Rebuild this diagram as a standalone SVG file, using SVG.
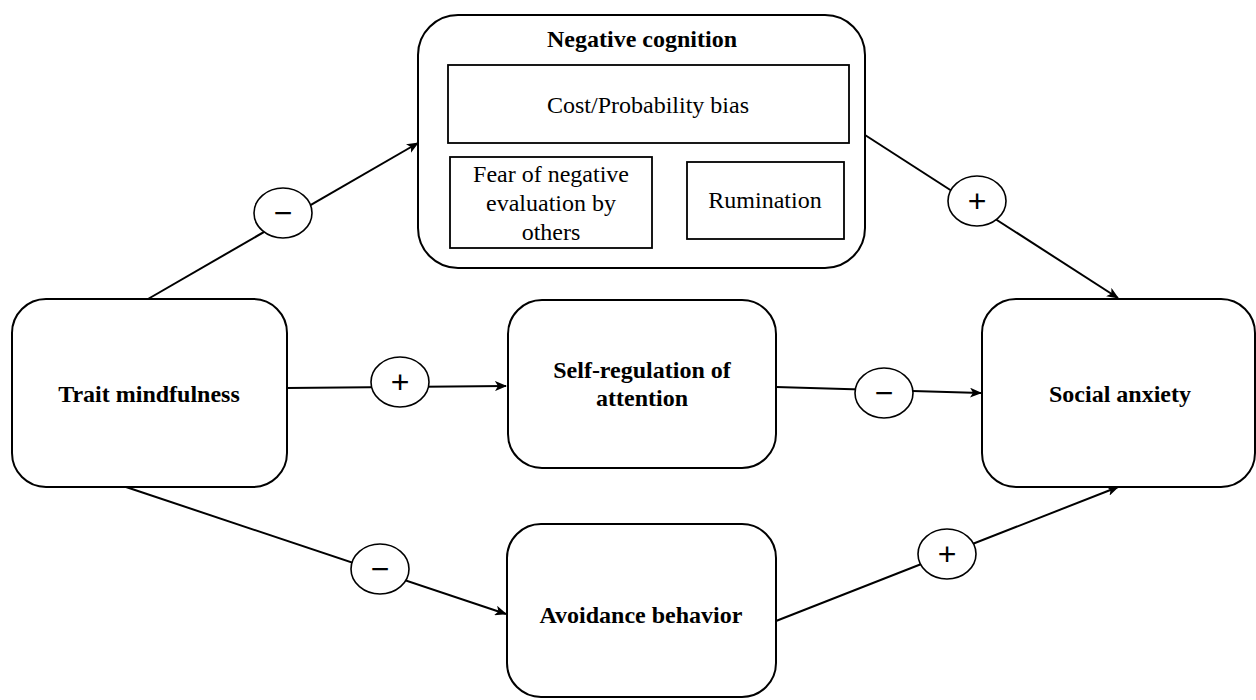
<svg xmlns="http://www.w3.org/2000/svg" width="1256" height="700" viewBox="0 0 1256 700">
<style>
.node{fill:#fff;stroke:#000;stroke-width:2}
.inner{fill:#fff;stroke:#000;stroke-width:1.8}
.sign{fill:#fff;stroke:#000;stroke-width:1.6}
.edge{fill:none;stroke:#000;stroke-width:2}
.b{font-family:"Liberation Serif","Times New Roman",serif;font-weight:bold;font-size:24px;text-anchor:middle;fill:#000}
.r{font-family:"Liberation Serif","Times New Roman",serif;font-size:24px;text-anchor:middle;fill:#000}
.s{font-family:"Liberation Sans",Arial,sans-serif;font-size:32px;text-anchor:middle;fill:#000}
</style>
<defs>
<marker id="arr" viewBox="0 0 12 10" refX="11" refY="5" markerWidth="12" markerHeight="10" markerUnits="userSpaceOnUse" orient="auto">
<path d="M0,0 L12,5 L0,10 L3,5 Z" fill="#000"/>
</marker>
</defs>
<rect width="1256" height="700" fill="#fff"/>
<g id="connectors">
<line class="edge" x1="148" y1="299" x2="418" y2="143" marker-end="url(#arr)"/>
<line class="edge" x1="287" y1="388" x2="506" y2="386" marker-end="url(#arr)"/>
<line class="edge" x1="865" y1="135" x2="1118" y2="298" marker-end="url(#arr)"/>
<line class="edge" x1="776" y1="387" x2="981" y2="393" marker-end="url(#arr)"/>
<line class="edge" x1="126" y1="487" x2="506" y2="614" marker-end="url(#arr)"/>
<line class="edge" x1="776" y1="621" x2="1118" y2="487" marker-end="url(#arr)"/>
<g id="sign1"><ellipse class="sign" cx="283" cy="213" rx="29" ry="25"/><text class="s" x="283" y="224">−</text></g>
<g id="sign2"><ellipse class="sign" cx="400" cy="382" rx="29" ry="25"/><text class="s" x="400" y="393">+</text></g>
<g id="sign3"><ellipse class="sign" cx="977" cy="201" rx="29" ry="25"/><text class="s" x="977" y="212">+</text></g>
<g id="sign4"><ellipse class="sign" cx="884" cy="393" rx="29" ry="25"/><text class="s" x="884" y="404">−</text></g>
<g id="sign5"><ellipse class="sign" cx="380" cy="569" rx="29" ry="25"/><text class="s" x="380" y="580">−</text></g>
<g id="sign6"><ellipse class="sign" cx="947" cy="554" rx="29" ry="25"/><text class="s" x="947" y="565">+</text></g>
</g>
<g id="negative-cognition">
<rect class="node" x="418" y="15" width="447" height="253" rx="40" ry="40"/>
<text class="b" x="642" y="47">Negative cognition</text>
<rect class="inner" x="448" y="65" width="401" height="78"/>
<text class="r" x="648" y="113">Cost/Probability bias</text>
<rect class="inner" x="450" y="157" width="202" height="91"/>
<text class="r" x="551" y="182">Fear of negative</text>
<text class="r" x="551" y="211">evaluation by</text>
<text class="r" x="551" y="240">others</text>
<rect class="inner" x="687" y="162" width="157" height="77"/>
<text class="r" x="765" y="208">Rumination</text>
</g>
<g id="trait-mindfulness">
<rect class="node" x="12" y="299" width="275" height="188" rx="34" ry="34"/>
<text class="b" x="149" y="402">Trait mindfulness</text>
</g>
<g id="self-regulation">
<rect class="node" x="508" y="300" width="268" height="168" rx="34" ry="34"/>
<text class="b" x="642" y="378">Self-regulation of</text>
<text class="b" x="642" y="406">attention</text>
</g>
<g id="social-anxiety">
<rect class="node" x="982" y="299" width="273" height="188" rx="34" ry="34"/>
<text class="b" x="1120" y="402">Social anxiety</text>
</g>
<g id="avoidance-behavior">
<rect class="node" x="507" y="524" width="269" height="173" rx="34" ry="34"/>
<text class="b" x="641" y="623">Avoidance behavior</text>
</g>
</svg>
